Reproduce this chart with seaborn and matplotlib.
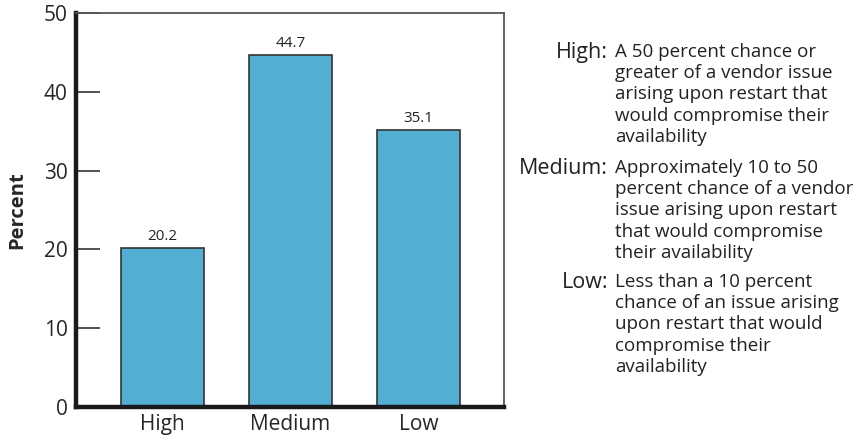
import matplotlib
matplotlib.use("Agg")
import matplotlib.pyplot as plt
import pandas as pd
import seaborn as sns

# Data
categories = ["High", "Medium", "Low"]
percents = [20.2, 44.7, 35.1]
y_ticks = [0, 10, 20, 30, 40, 50]

# Legend-like notes on the right
note_labels = ["High:", "Medium:", "Low:"]
note_texts = [
    "A 50 percent chance or\ngreater of a vendor issue\narising upon restart that\nwould compromise their\navailability",
    "Approximately 10 to 50\npercent chance of a vendor\nissue arising upon restart\nthat would compromise\ntheir availability",
    "Less than a 10 percent\nchance of an issue arising\nupon restart that would\ncompromise their\navailability",
]

df = pd.DataFrame({"category": categories, "percent": percents})

sns.set_style("white")
plt.rcParams["font.family"] = ["Open Sans", "DejaVu Sans"]

fig = plt.figure(figsize=(8.58, 4.4), dpi=100)
ax = fig.add_axes([76 / 858, 33 / 440, 428 / 858, 394 / 440])

sns.barplot(
    data=df, x="category", y="percent", order=categories,
    color="#52aed3", saturation=1, width=0.65,
    edgecolor="#333333", linewidth=1.2, ax=ax,
)

# Value labels on top of bars
ax.bar_label(ax.containers[0], labels=[f"{v:.1f}" for v in percents],
             padding=3, fontsize=11, color="#222222")

ax.set_ylim(0, 50)
ax.set_xlim(-0.676, 2.668)
ax.set_yticks(y_ticks)
ax.tick_params(axis="y", left=True, direction="in", length=17, width=1.1,
               color="#222222", labelsize=15, pad=6)
ax.tick_params(axis="x", bottom=False, length=0, labelsize=15, pad=5)
ax.set_xlabel("")
ax.set_ylabel("Percent", fontsize=14.5, fontweight="bold", labelpad=12)

# Thick left/bottom axis, thin frame on top/right
for side in ["left", "bottom"]:
    ax.spines[side].set_linewidth(3.2)
    ax.spines[side].set_color("#1a1a1a")
for side in ["top", "right"]:
    ax.spines[side].set_linewidth(1.3)
    ax.spines[side].set_color("#555555")

# Notes block (va="baseline" on multiline text uses the last line)
line_px = 21
baselines = [58, 174, 288]
for label, text, y in zip(note_labels, note_texts, baselines):
    n_lines = text.count("\n")
    fig.text(608 / 858, 1 - y / 440, label, ha="right", va="baseline",
             fontsize=15.5, color="#222222")
    fig.text(615 / 858, 1 - (y + n_lines * line_px) / 440, text,
             ha="left", va="baseline",
             fontsize=13.5, linespacing=1.235, color="#222222")

fig.savefig("out.png", dpi=100)
